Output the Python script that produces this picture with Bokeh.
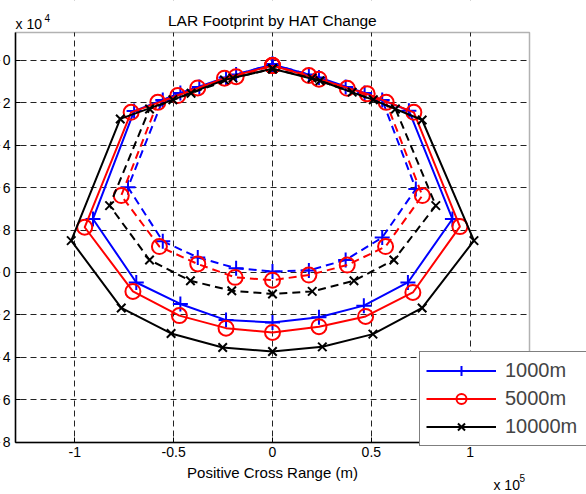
from bokeh.plotting import figure
from bokeh.models import Range1d, Legend, LegendItem, Label, FixedTicker, BoxAnnotation
from bokeh.embed import file_html
from bokeh.resources import INLINE

# ---- data (metres) ----
x_1000_outer = [0, 23500, 46600, 69000, 91000, 68500, 46200, 23500, 0, -23500, -46600, -68900, -90800, -70000, -46600, -23500, 0]
y_1000_outer = [2000, 8200, 15500, 23800, 74800, 104700, 115600, 121100, 123500, 122400, 114800, 104700, 74800, 24000, 15500, 8200, 2000]
x_1000_inner = [0, 18400, 37000, 55500, 72500, 55500, 37000, 18400, 0, -18400, -37800, -55500, -73100, -55500, -37000, -18400, 0]
y_1000_inner = [2000, 6800, 12700, 18800, 60700, 83500, 94100, 99000, 99500, 98000, 92900, 85300, 59900, 18800, 12700, 6800, 2000]

x_5000_outer = [0, 23500, 47900, 71500, 94800, 71000, 47100, 23500, 0, -23500, -47100, -70600, -95000, -71500, -47900, -24300, 0]
y_5000_outer = [2600, 9000, 15900, 24600, 78400, 109400, 120700, 125500, 128200, 126200, 120300, 108900, 78700, 24600, 16700, 8500, 2600]
x_5000_inner = [0, 18400, 37800, 57500, 75800, 57200, 37800, 18400, 0, -18900, -37800, -57200, -76500, -58000, -37800, -18400, 0]
y_5000_inner = [2600, 7300, 13300, 19900, 63800, 87800, 96500, 101200, 103600, 102300, 96000, 87800, 63800, 19900, 13100, 7800, 2600]

x_10000_outer = [0, 24000, 51000, 75700, 101900, 75700, 50800, 25200, 0, -25200, -51300, -76500, -101800, -77000, -50400, -24300, 0]
y_10000_outer = [4100, 9700, 18700, 28200, 85000, 116700, 129000, 135000, 137200, 135300, 128700, 116700, 85000, 27700, 18700, 9300, 4100]
x_10000_inner = [0, 20000, 40300, 62200, 82600, 61400, 41200, 20100, 0, -20600, -41500, -62200, -82400, -62200, -41200, -20000, 0]
y_10000_inner = [4100, 8500, 15100, 23000, 68500, 94100, 103900, 108900, 110100, 108600, 103900, 94100, 68500, 23000, 15600, 8500, 4100]

series_names = ["1000m", "5000m", "10000m"]
x_ticks = [-100000, -50000, 0, 50000, 100000]
x_tick_labels = ["-1", "-0.5", "0", "0.5", "1"]
y_ticks = [0, 20000, 40000, 60000, 80000, 100000, 120000, 140000, 160000, 180000]
y_tick_labels = ["0", "2", "4", "6", "8", "0", "2", "4", "6", "8"]

# axes box limits
X_MIN, X_MAX = -130000, 130000
Y_TOP, Y_BOT = -13000, 180000

FONT = "Liberation Sans"

# the frame fills the whole canvas; the axes box sits inside it so that the
# legend and the exponent notes can lie outside the box like in the original
p = figure(width=586, height=494, output_backend="svg", toolbar_location=None,
           x_range=Range1d(-137580, 158830), y_range=Range1d(204520, -28060),
           min_border=0, min_border_left=0, min_border_right=0,
           min_border_top=0, min_border_bottom=0, title=None)
p.background_fill_color = "white"
p.border_fill_color = "white"
p.outline_line_color = None

p.xaxis.fixed_location = Y_BOT
p.xaxis.bounds = (X_MIN, X_MAX)
p.yaxis.fixed_location = X_MIN
p.yaxis.bounds = (Y_TOP, Y_BOT)

for ax, ticks, labels in ((p.xaxis[0], x_ticks, x_tick_labels), (p.yaxis[0], y_ticks, y_tick_labels)):
    ax.ticker = FixedTicker(ticks=ticks)
    ax.major_label_overrides = {t: l for t, l in zip(ticks, labels)}
    ax.major_tick_in = 5
    ax.major_tick_out = 0
    ax.minor_tick_line_color = None
    ax.axis_line_color = "black"
    ax.axis_line_width = 1.5
    ax.major_tick_line_color = "black"
    ax.major_label_text_font = FONT
    ax.major_label_text_font_size = "14px"
    ax.major_label_text_color = "black"
    ax.major_label_standoff = 5

p.xaxis.axis_label = "Positive Cross Range (m)"
p.xaxis.axis_label_text_font = FONT
p.xaxis.axis_label_text_font_size = "15px"
p.xaxis.axis_label_text_font_style = "normal"
p.xaxis.axis_label_text_color = "black"
p.xaxis.axis_label_standoff = 3

p.xgrid.ticker = FixedTicker(ticks=x_ticks)
p.ygrid.ticker = FixedTicker(ticks=y_ticks)
for g in (p.xgrid[0], p.ygrid[0]):
    g.grid_line_color = "#222222"
    g.grid_line_dash = "6 4"
    g.grid_line_width = 1

# white masks outside the axes box (hide grid lines there)
for kw in (dict(left=X_MAX), dict(right=X_MIN), dict(bottom=Y_TOP), dict(top=Y_BOT)):
    p.add_layout(BoxAnnotation(fill_color="white", fill_alpha=1, line_color=None,
                               level="underlay", **kw))
# axes box outline
p.add_layout(BoxAnnotation(left=X_MIN, right=X_MAX, top=Y_TOP, bottom=Y_BOT,
                           fill_color=None, fill_alpha=0, line_color="black",
                           line_width=1.5, level="guide"))

styles = [
    ("#0000ff", "cross", 15, x_1000_outer, y_1000_outer, x_1000_inner, y_1000_inner),
    ("#ff0000", "circle", 15, x_5000_outer, y_5000_outer, x_5000_inner, y_5000_inner),
    ("#000000", "x", 12, x_10000_outer, y_10000_outer, x_10000_inner, y_10000_inner),
]
items = []
for name, (col, mk, sz, xo, yo, xi, yi) in zip(series_names, styles):
    l1 = p.line(xo, yo, line_color=col, line_width=2)
    s1 = p.scatter(xo, yo, marker=mk, size=sz, line_color=col, fill_color=None, line_width=2)
    p.line(xi, yi, line_color=col, line_width=2, line_dash="8 5")
    p.scatter(xi, yi, marker=mk, size=sz, line_color=col, fill_color=None, line_width=2)
    items.append(LegendItem(label=name, renderers=[l1, s1]))

legend = Legend(items=items, location=(419, 48))
legend.label_text_font = FONT
legend.label_text_font_size = "20px"
legend.glyph_width = 70
legend.glyph_height = 25
legend.label_height = 25
legend.spacing = 3
legend.padding = 6
legend.margin = 0
legend.label_standoff = 9
legend.label_width = 76
legend.border_line_color = "black"
legend.border_line_width = 1.5
legend.background_fill_color = "white"
legend.background_fill_alpha = 1
p.add_layout(legend)

def lab(x, y, t, size, align="left"):
    p.add_layout(Label(x=x, y=y, text=t, text_font=FONT, text_font_size=size,
                       text_align=align, text_baseline="alphabetic", text_color="black"))

lab(0, -18600, "LAR Footprint by HAT Change", "15.5px", "center")
lab(-130000, -17230, "x 10", "14px")
lab(-115300, -19590, "4", "10px")
lab(111780, 200000, "x 10", "14px")
lab(124900, 196700, "5", "10px")

open("out.html", "w").write(file_html(p, INLINE))
